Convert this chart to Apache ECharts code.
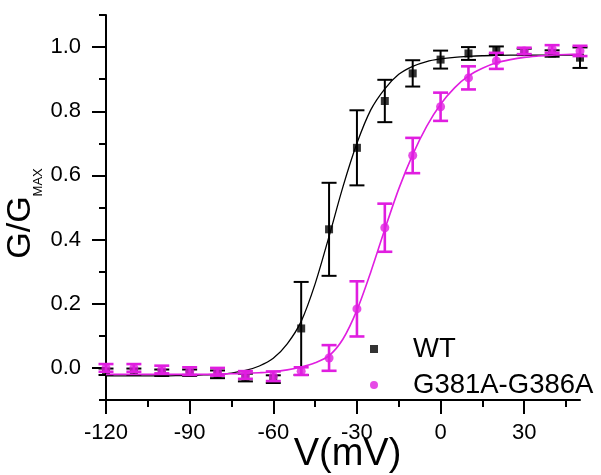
<!DOCTYPE html>
<html>
<head>
<meta charset="utf-8">
<script src="https://cdn.jsdelivr.net/npm/echarts@6/dist/echarts.min.js"></script>
<style>html,body{margin:0;padding:0;background:#fff}#c{width:601px;height:475px}</style>
</head>
<body>
<div id="c"></div>
<script>
// ---- data ----
var voltages = [-120,-110,-100,-90,-80,-70,-60,-50,-40,-30,-20,-10,0,10,20,30,40,50];
var wtMean  = [-0.012,-0.012,-0.015,-0.015,-0.020,-0.030,-0.035,0.123,0.432,0.686,0.832,0.918,0.961,0.980,0.990,0.985,0.980,0.967];
var wtErr   = [0.010,0.010,0.010,0.010,0.012,0.012,0.012,0.145,0.145,0.117,0.066,0.041,0.028,0.020,0.012,0.010,0.010,0.032];
var mutMean = [0.000,0.000,-0.005,-0.010,-0.012,-0.022,-0.026,-0.010,0.031,0.184,0.437,0.662,0.814,0.904,0.957,0.988,0.994,0.988];
var mutErr  = [0.012,0.012,0.012,0.012,0.012,0.012,0.015,0.012,0.040,0.086,0.075,0.055,0.044,0.036,0.025,0.010,0.012,0.016];

var fitVoltages = [-120,-115,-110,-105,-100,-95,-90,-85,-80,-75,-70,-65,-60,-55,-50,-45,-40,-35,-30,-25,-20,-15,-10,-5,0,5,10,15,20,25,30,35,40,45,50];
var wtFit  = [-0.025,-0.025,-0.025,-0.025,-0.025,-0.024,-0.024,-0.022,-0.020,-0.016,-0.008,0.006,0.030,0.075,0.145,0.262,0.410,0.565,0.700,0.805,0.870,0.915,0.940,0.955,0.963,0.968,0.971,0.973,0.974,0.975,0.975,0.975,0.975,0.975,0.975];
var mutFit = [-0.020,-0.020,-0.020,-0.020,-0.020,-0.020,-0.020,-0.020,-0.019,-0.018,-0.017,-0.015,-0.012,-0.006,0.003,0.016,0.038,0.090,0.180,0.300,0.432,0.558,0.665,0.753,0.822,0.873,0.910,0.934,0.951,0.961,0.968,0.972,0.975,0.977,0.978];

var seriesNames = ['WT', 'G381A-G386A'];
var xMajorTicks = [-120,-90,-60,-30,0,30];
var xMinorTicks = [-105,-75,-45,-15,15,45];
var yMajorTicks = [0.0,0.2,0.4,0.6,0.8,1.0];
var yMinorTicks = [-0.1,0.1,0.3,0.5,0.7,0.9,1.1];

var BLACK = '#000000';
var MAGENTA = '#e01ee0';
var FONT = 'Liberation Sans, Arial, sans-serif';

function zip(xs, ys) { return xs.map(function (x, i) { return [x, ys[i]]; }); }
function errData(xs, m, e) { return xs.map(function (x, i) { return [x, m[i] - e[i], m[i] + e[i]]; }); }

function errRender(color, width) {
  return function (params, api) {
    var x = api.value(0);
    var lo = api.coord([x, api.value(1)]);
    var hi = api.coord([x, api.value(2)]);
    var cw = 7.5;
    var st = { stroke: color, lineWidth: width };
    return {
      type: 'group',
      children: [
        { type: 'line', shape: { x1: lo[0], y1: lo[1], x2: hi[0], y2: hi[1] }, style: st },
        { type: 'line', shape: { x1: hi[0] - cw, y1: hi[1], x2: hi[0] + cw, y2: hi[1] }, style: st },
        { type: 'line', shape: { x1: lo[0] - cw, y1: lo[1], x2: lo[0] + cw, y2: lo[1] }, style: st }
      ]
    };
  };
}

var chart = echarts.init(document.getElementById('c'), null, { renderer: 'canvas' });

var axisBase = { min: -120, max: 50, type: 'value', splitLine: { show: false } };
var yBase = { min: -0.1, max: 1.1, type: 'value', splitLine: { show: false } };

chart.setOption({
  animation: false,
  backgroundColor: '#ffffff',
  textStyle: { fontFamily: FONT },
  grid: { left: 106, right: 21, top: 15, bottom: 75, containLabel: false, outerBoundsMode: 'none' },
  legend: {
    orient: 'vertical',
    left: 365,
    top: 330,
    itemWidth: 8,
    itemHeight: 8,
    itemGap: 8,
    data: [{ name: seriesNames[0], icon: 'rect' }, { name: seriesNames[1], icon: 'circle' }],
    textStyle: { fontSize: 27.5, color: '#000', fontFamily: FONT, padding: [0, 0, 0, 30] }
  },
  xAxis: [
    Object.assign({}, axisBase, {
      position: 'bottom',
      name: 'V(mV)',
      nameLocation: 'middle',
      nameGap: 36,
      nameMoveOverlap: false,
      nameTextStyle: { fontSize: 38, color: '#000', fontFamily: FONT, padding: [0, 0, 0, 9] },
      axisLine: { show: true, onZero: false, lineStyle: { color: BLACK, width: 2 } },
      axisTick: { show: true, inside: false, length: 14, customValues: xMajorTicks, lineStyle: { color: BLACK, width: 2 } },
      axisLabel: { show: true, customValues: xMajorTicks, margin: 22, fontSize: 22, color: '#000', fontFamily: FONT }
    }),
    Object.assign({}, axisBase, {
      position: 'bottom',
      axisLine: { show: false, onZero: false },
      axisTick: { show: true, inside: false, length: 7, customValues: xMinorTicks, lineStyle: { color: BLACK, width: 2 } },
      axisLabel: { show: false }
    })
  ],
  yAxis: [
    Object.assign({}, yBase, {
      position: 'left',
      name: '{a|G/G}{b|MAX}',
      nameLocation: 'middle',
      nameGap: 61,
      nameRotate: 90,
      nameMoveOverlap: false,
      nameTextStyle: {
        color: '#000', fontFamily: FONT, padding: [0, 12, 0, 0],
        rich: {
          a: { fontSize: 34, lineHeight: 41, verticalAlign: 'top', color: '#000', fontFamily: FONT },
          b: { fontSize: 13, lineHeight: 13, verticalAlign: 'bottom', color: '#000', fontFamily: FONT }
        }
      },
      axisLine: { show: true, onZero: false, lineStyle: { color: BLACK, width: 2 } },
      axisTick: { show: true, inside: false, length: 14, customValues: yMajorTicks, lineStyle: { color: BLACK, width: 2 } },
      axisLabel: { show: true, customValues: yMajorTicks, margin: 25, fontSize: 22, color: '#000', fontFamily: FONT,
        formatter: function (v) { return v.toFixed(1); } }
    }),
    Object.assign({}, yBase, {
      position: 'left',
      axisLine: { show: false, onZero: false },
      axisTick: { show: true, inside: false, length: 7, customValues: yMinorTicks, lineStyle: { color: BLACK, width: 2 } },
      axisLabel: { show: false }
    })
  ],
  series: [
    { name: 'WT fit', type: 'line', data: zip(fitVoltages, wtFit), smooth: 0.3, symbol: 'none',
      lineStyle: { color: BLACK, width: 1.3 }, z: 3 },
    { name: 'WT err', type: 'custom', data: errData(voltages, wtMean, wtErr), renderItem: errRender(BLACK, 2), z: 2 },
    { name: seriesNames[0], type: 'scatter', data: zip(voltages, wtMean), symbol: 'rect', symbolSize: 8,
      itemStyle: { color: BLACK }, z: 4 },
    { name: 'Mut fit', type: 'line', data: zip(fitVoltages, mutFit), smooth: 0.3, symbol: 'none',
      lineStyle: { color: MAGENTA, width: 1.6 }, z: 5 },
    { name: 'Mut err', type: 'custom', data: errData(voltages, mutMean, mutErr), renderItem: errRender(MAGENTA, 2.6), z: 5 },
    { name: seriesNames[1], type: 'scatter', data: zip(voltages, mutMean), symbol: 'circle', symbolSize: 9,
      itemStyle: { color: MAGENTA }, z: 6 }
  ]
});
</script>
</body>
</html>
